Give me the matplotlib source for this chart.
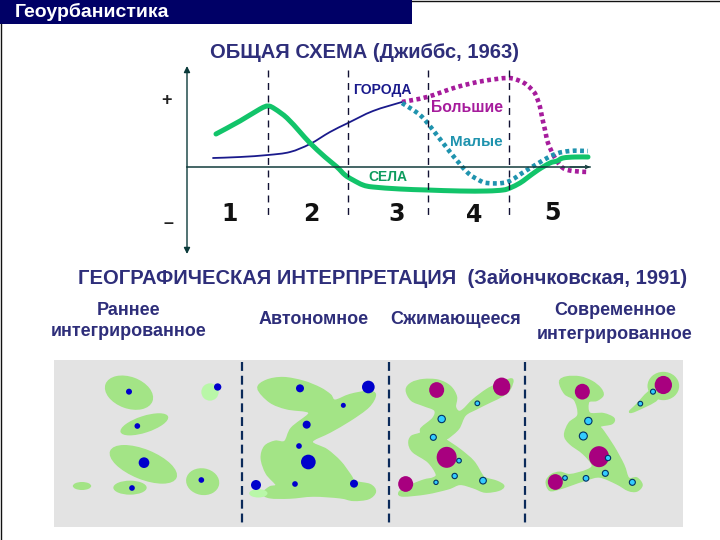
import matplotlib
matplotlib.use("Agg")
import matplotlib.pyplot as plt
from matplotlib.patches import Ellipse, PathPatch, Rectangle
from matplotlib.path import Path

plt.rcParams['font.family'] = ['Liberation Sans', 'DejaVu Sans']

# Curves (image pixel scale)
green = [(216,134),(240,121),(260,109),(268,106),(275,109),(287,118),(300,132),(310,143),(325,157),(337,167),(345,175),(353,180),(363,185),(373,187),(400,189),(427,190),(460,191),(487,191),(503,190),(510,188),(520,183),(527,178),(538,170),(550,163),(557,161),(563,158),(575,157),(588,157)]
cities = [(213,158),(240,157),(268,155),(290,152),(310,144),(330,132),(348,123),(373,111),(402,102)]
large = [(402,102),(427,97),(457,87),(483,81),(508,78),(520,81),(527,85),(534,92),(537,98),(540,107),(542,117),(545,130),(548,143),(555,158),(563,168),(573,171),(588,172)]
small = [(402,103),(420,115),(433,130),(450,152),(467,172),(477,179),(487,183),(507,182),(527,170),(553,155),(570,151),(588,151)]
dividers = [268,348,428,509]
period_labels = ['1','2','3','4','5']
period_x = [230,311,397,474,552]
period_y = [214,214,214,215,213]

# Maps, traced at crop scale: left crop origin (40,350), right crop origin (370,350), scale 3
left_ellipses = [(267,128,150,95,20),(313,223,150,50,-18),(310,343,215,90,22),(270,413,100,42,0),(126,408,55,24,0),(488,395,100,80,10)]
left_light = [(510,126,52,52,0),(655,430,55,25,0)]
left_blue = [(267,125,18),(533,111,22),(292,228,17),(312,338,32),(276,414,17),(484,390,17),
             (780,115,24),(985,111,38),(910,166,15),(800,224,24),(777,288,17),(805,336,44),(765,402,17),(648,405,30),(942,401,24)]
outline_2 = [(655,115),(680,92),(730,84),(790,95),(840,115),(870,135),(885,152),(930,135),(985,125),(1005,135),(985,170),(930,210),(870,245),(815,275),(860,300),(900,335),(930,375),(945,395),(990,405),(1005,425),(985,445),(940,450),(900,442),(820,437),(750,443),(690,442),(670,430),(690,412),(710,405),(680,370),(665,325),(675,290),(705,275),(735,275),(755,235),(805,195),(800,183),(740,175),(690,155)]
outline_3 = [(110,120),(125,100),(160,90),(205,92),(240,110),(258,140),(255,170),(265,185),(280,180),(310,150),(350,120),(380,105),(425,88),(420,115),(400,135),(360,155),(320,175),(285,195),(265,235),(235,262),(225,268),(270,300),(310,335),(335,375),(345,385),(380,395),(400,408),(385,420),(345,425),(310,412),(270,402),(235,415),(170,430),(100,437),(88,428),(110,412),(160,392),(190,385),(200,372),(175,335),(130,305),(118,280),(125,260),(152,250),(155,235),(190,205),(195,180),(160,165),(125,150)]
outline_4 = [(570,95),(590,82),(630,82),(665,95),(690,115),(698,135),(680,150),(655,155),(658,190),(700,192),(730,205),(725,220),(690,228),(700,245),(730,290),(760,345),(775,385),(800,385),(815,405),(800,422),(775,420),(740,400),(690,380),(650,388),(600,405),(570,415),(540,420),(530,395),(545,375),(570,368),(600,375),(650,362),(668,345),(640,310),(600,280),(585,255),(598,220),(625,195),(615,150),(585,130)]
tail_4 = [(840,125),(800,165),(780,185),(800,180),(860,148)]
head_4 = (880,108,95,85,0)
right_purple = [(200,120,45),(395,110,52),(230,322,60),(107,402,45),(637,125,45),(880,105,52),(687,320,60),(556,396,45)]
right_cyan = [(215,207,22),(190,262,18),(322,160,14),(267,332,14),(254,378,16),(198,397,13),(339,392,20),
              (655,213,22),(640,258,24),(849,125,15),(811,161,14),(714,324,16),(706,370,18),(648,385,17),(585,384,14),(787,397,18)]
map_dividers = [242,389,525]

title_top = 'ОБЩАЯ СХЕМА (Джиббс, 1963)'
title_mid = 'ГЕОГРАФИЧЕСКАЯ ИНТЕРПРЕТАЦИЯ  (Зайончковская, 1991)'
header = 'Геоурбанистика'

GREEN = '#A3E486'
INK = '#2E2E7A'
fig = plt.figure(figsize=(7.2,5.4), dpi=100)
ax = fig.add_axes([0,0,1,1])
ax.set_xlim(0,720); ax.set_ylim(540,0); ax.axis('off')

def L(p): return (40+p[0]/3, 350+p[1]/3)
def R(p): return (370+p[0]/3, 350+p[1]/3)

def smooth(pts, closed=False):
    """Bezier path running through the traced points."""
    n = len(pts)
    def at(i):
        return pts[i % n] if closed else pts[max(0, min(n-1, i))]
    verts = [pts[0]]; codes = [Path.MOVETO]
    for i in range(n if closed else n-1):
        p0, p1, p2, p3 = at(i-1), at(i), at(i+1), at(i+2)
        verts += [(p1[0]+(p2[0]-p0[0])/6, p1[1]+(p2[1]-p0[1])/6),
                  (p2[0]-(p3[0]-p1[0])/6, p2[1]-(p3[1]-p1[1])/6), p2]
        codes += [Path.CURVE4]*3
    return Path(verts, codes)

def curve(pts, **kw):
    ax.add_patch(PathPatch(smooth(pts), fc='none', **kw))

def blob(pts):
    ax.add_patch(PathPatch(smooth(pts, True), fc=GREEN, ec=GREEN, lw=1.6))

ax.add_patch(Rectangle((0,0),412,24,fc='#000066',ec='none'))
ax.plot([412,720],[0.5,0.5],color='#111111',lw=1)
ax.plot([1,1],[24,540],color='#111111',lw=1)
ax.text(15,12,header,color='white',fontsize=14,fontweight='bold',va='center',ha='left')
ax.text(365,53,title_top,color=INK,fontsize=14.5,fontweight='bold',va='center',ha='center')
ax.text(383,278,title_mid,color=INK,fontsize=14.5,fontweight='bold',va='center',ha='center')

# axes
ax.annotate('',xy=(187,66),xytext=(187,254),arrowprops=dict(arrowstyle='<|-|>',color='#0B3A3A',lw=1,mutation_scale=9,shrinkA=0,shrinkB=0))
ax.plot([187,590],[167,167],color='#123C3C',lw=1.1)
ax.annotate('',xy=(590,167),xytext=(570,167),arrowprops=dict(arrowstyle='->',color='#123C3C',lw=0.8,mutation_scale=6,shrinkA=0,shrinkB=0))
ax.text(166,101,'+',fontsize=13,fontweight='bold',ha='center',va='center',color='#222')
ax.text(168,223,'–',fontsize=13,fontweight='bold',ha='center',va='center',color='#222')
for x in dividers:
    ax.plot([x,x],[70,217],color='#111133',lw=1,ls=(0,(5,4)))
for s,x,y in zip(period_labels,period_x,period_y):
    ax.text(x,y,s,fontsize=17,fontweight='bold',ha='center',va='center',color='#111',fontfamily='DejaVu Sans')

curve(cities,ec='#1A1A8C',lw=1.3,capstyle='round')
curve(large,ec='#A61C9C',lw=3.3,ls=(0,(0.85,0.75)))
curve(small,ec='#1F93AE',lw=3.3,ls=(0,(0.85,0.75)))
curve(green,ec='#12C46A',lw=3.6,capstyle='round',joinstyle='round')
ax.text(382,90,'ГОРОДА',color='#1A1A8C',fontsize=10,fontweight='bold',ha='center',va='center')
ax.text(467,108,'Большие',color='#A61C9C',fontsize=11.3,fontweight='bold',ha='center',va='center')
ax.text(476,142,'Малые',color='#1F93AE',fontsize=11,fontweight='bold',ha='center',va='center')
ax.text(388,177,'СЕЛА',color='#0E9C5E',fontsize=10,fontweight='bold',ha='center',va='center')

# column labels
lab = dict(fontsize=13,color=INK,ha='center',va='center',fontweight='bold')
ax.text(129,321,'Раннее\nинтегрированное',linespacing=1.3,**lab)
ax.text(314,319,'Автономное',**lab)
ax.text(456,319,'Сжимающееся',**lab)
ax.text(615,322.5,'Современное\nинтегрированное',linespacing=1.5,**lab)

# maps
ax.add_patch(Rectangle((54,360),629,167,fc='#E3E3E3',ec='none'))
for x,y,w,h,a in left_ellipses:
    ax.add_patch(Ellipse(L((x,y)),w/3,h/3,angle=a,fc=GREEN,ec='none'))
blob([L(p) for p in outline_2])
blob([R(p) for p in outline_3])
blob([R(p) for p in outline_4])
blob([R(p) for p in tail_4])
ax.add_patch(Ellipse(R(head_4[:2]),head_4[2]/3,head_4[3]/3,fc=GREEN,ec='none'))
for x,y,w,h,a in left_light:
    ax.add_patch(Ellipse(L((x,y)),w/3,h/3,angle=a,fc='#B9F7A8',ec='none'))
for x in map_dividers:
    ax.plot([x,x],[362,527],color='#0B2A5A',lw=1.6,ls=(0,(4,2.2)))
for x,y,d in left_blue:
    ax.add_patch(Ellipse(L((x,y)),d/3,d/3,fc='#0000CC',ec='none'))
for x,y,d in right_purple:
    ax.add_patch(Ellipse(R((x,y)),d/3,d/3*1.05,fc='#A8007F',ec='none'))
for x,y,d in right_cyan:
    ax.add_patch(Ellipse(R((x,y)),d/3,d/3,fc='#33CCFF',ec='#003366',lw=0.8))

fig.savefig('out.png',dpi=100)
